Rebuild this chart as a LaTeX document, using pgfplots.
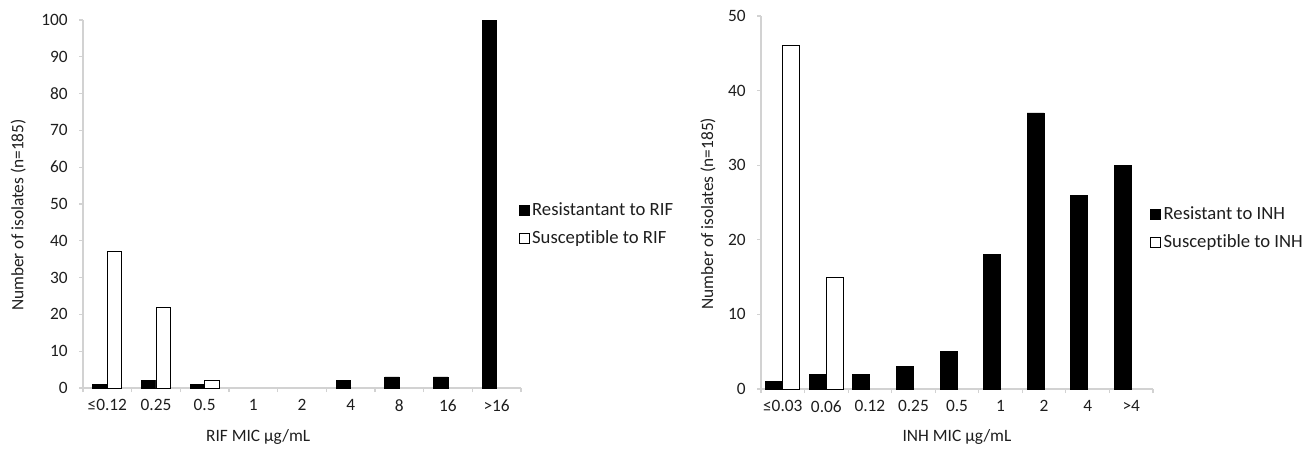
\documentclass[border=0pt]{standalone}
\usepackage{pgfplots}
\pgfplotsset{compat=1.18}
\usepackage{fontspec}
\setmainfont{Carlito}[Ligatures=NoCommon]
\definecolor{axgray}{RGB}{210,210,210}
\definecolor{txt}{RGB}{30,30,30}

\pgfplotsset{
  micbars/.style={
    ybar=0pt, scale only axis, enlargelimits=false,
    xmin=-0.5, xmax=8.5, ymin=0,
    axis x line*=bottom, axis y line*=left,
    axis line style={draw=axgray, line width=0.8pt, -},
    tick style={draw=axgray, line width=0.8pt},
    tick align=outside, major tick length=3pt,
    xtick={-0.5,0.5,...,8.5}, xticklabels={},
    extra x ticks={0,...,8},
    extra x tick style={major tick length=0pt, tick style={draw=none}},
    every tick label/.append style={text=txt},
    extra x tick labels={},
    xticklabel style={yshift=-4pt},
    yticklabel style={xshift=-4pt},
    /pgf/number format/assume math mode=true,
    label style={text=txt},
    legend style={draw=none, fill=none, text=txt, row sep=5pt,
      legend cell align=left, anchor=west, font=\fontsize{14pt}{16pt}\selectfont},
    legend image code/.code={\draw[##1] (0pt,-3.75pt) rectangle (7.5pt,3.75pt);},
  },
  resist/.style={fill=black, draw=black, line width=0.6pt},
  suscept/.style={fill=white, draw=black, line width=0.6pt},
}

\begin{document}
\fontsize{13pt}{16pt}\selectfont
\begin{tikzpicture}
\path[use as bounding box] (0,0) rectangle (980.25pt,343.5pt);

% A: rifampicin
\begin{axis}[micbars, at={(62.25pt,52.5pt)}, anchor=south west,
  width=328.5pt, height=276pt, bar width=10.9pt,
  ymax=100, ytick={0,10,...,100},
  extra x tick labels={≤0.12,0.25,0.5,1,2,4,8,16,>16},
  xlabel={RIF MIC µg/mL},
  xlabel style={at={(axis description cs:0.40,-0.133)}, anchor=center},
  ylabel={Number of isolates (n=185)},
  ylabel style={at={(axis description cs:-0.148,0.47)}, anchor=center},
  legend style={at={(axis description cs:0.985,0.445)}}]
% zero counts are left out so no flat bar is drawn
\addplot[resist] coordinates {(0,1) (1,2) (2,1) (5,2) (6,3) (7,3) (8,100)};
\addplot[suscept] coordinates {(0,37) (1,22) (2,2)};
\legend{Resistantant to RIF, Susceptible to RIF}
\node[text=txt, anchor=center] at (axis description cs:-0.155,-0.168) {A};
\end{axis}

% B: isoniazid
\begin{axis}[micbars, at={(570.75pt,51.75pt)}, anchor=south west,
  width=294pt, height=279.75pt, bar width=12.75pt,
  ymax=50, ytick={0,10,...,50},
  extra x tick labels={≤0.03,0.06,0.12,0.25,0.5,1,2,4,>4},
  xlabel={INH MIC µg/mL},
  xlabel style={at={(axis description cs:0.5,-0.129)}, anchor=center},
  ylabel={Number of isolates (n=185)},
  ylabel style={at={(axis description cs:-0.135,0.47)}, anchor=center},
  legend style={at={(axis description cs:0.982,0.43)}}]
\addplot[resist] coordinates {(0,1) (1,2) (2,2) (3,3) (4,5) (5,18) (6,37) (7,26) (8,30)};
\addplot[suscept] coordinates {(0,46) (1,15)};
\legend{Resistant to INH, Susceptible to INH}
\node[text=txt, anchor=center] at (axis description cs:-0.143,-0.164) {B};
\end{axis}
\end{tikzpicture}
\end{document}
